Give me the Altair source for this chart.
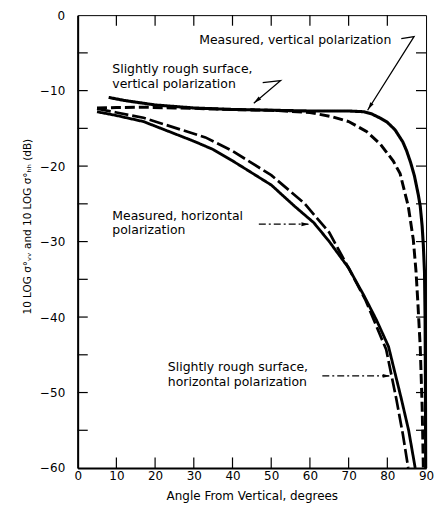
import altair as alt
import pandas as pd

# ---- curve data (angle from vertical in degrees, backscatter in dB) ----
mv_deg = [8, 12, 16, 20, 25, 30, 40, 50, 60, 70, 74, 76, 78, 80, 82, 84, 85, 86, 87, 88, 88.5, 89, 89.3, 89.6, 89.75, 89.85, 89.9]
mv_db = [-10.9, -11.3, -11.6, -11.9, -12.1, -12.3, -12.5, -12.6, -12.7, -12.7, -12.8, -13.1, -13.6, -14.2, -15.2, -16.8, -18.0, -19.5, -21.3, -23.8, -25.3, -28.0, -30.5, -34.0, -40.0, -50.0, -60.0]

rv_deg = [5, 10, 17, 25, 30, 40, 50, 60, 66, 70, 74.6, 78.2, 81.5, 83.3, 85.4, 86.7, 87.4, 87.9, 88.5, 89.0, 89.3]
rv_db = [-12.3, -12.25, -12.2, -12.3, -12.35, -12.5, -12.6, -12.9, -13.5, -14.1, -15.4, -17.1, -19.3, -21.0, -25.3, -29.7, -33.9, -38.2, -44.0, -52.0, -60.0]

rh_deg = [5, 10, 17, 25, 33, 40, 50, 58.5, 65, 70, 74.4, 77, 79.7, 82.3, 84, 85.4]
rh_db = [-12.4, -12.9, -13.6, -14.9, -16.2, -18.0, -21.2, -24.9, -28.8, -33.5, -37.8, -41.0, -44.3, -50.8, -55.5, -60.0]

mh_deg = [5, 10, 17, 25, 30, 35, 40, 50, 56, 61, 65, 70, 74, 77.2, 80.3, 83.6, 85.5, 87.2]
mh_db = [-12.8, -13.3, -14.1, -15.7, -16.7, -17.8, -19.3, -22.5, -25.3, -27.5, -30.0, -33.5, -37.2, -40.4, -43.9, -50.8, -55.0, -60.0]

series_names = ["mv", "rv", "mh", "rh"]

# ---- axis tick values ----
x_label_values = [0, 10, 20, 30, 40, 50, 60, 70, 80, 90]
y_label_values = [-60, -50, -40, -30, -20, -10, 0]
y_tick_values = [-55, -50, -45, -40, -35, -30, -25, -20, -15, -10, -5]
x_tick_values = [10, 20, 30, 40, 50, 60, 70, 80]

# ---- annotations ----
ann_text = ["Measured, vertical polarization", "Slightly rough surface,", "vertical polarization",
            "Measured, horizontal", "polarization", "Slightly rough surface,", "horizontal polarization"]
ann_x = [31.4, 8.95, 8.95, 8.95, 8.95, 23.3, 23.3]
ann_y = [-3.24, -7.12, -9.07, -26.55, -28.5, -46.6, -48.6]

lead_solid_id = [1, 1, 1, 2, 2, 2]
lead_solid_x = [83.6, 86.9, 74.9, 47.8, 52.4, 45.5]
lead_solid_y = [-3.1, -2.85, -12.6, -8.94, -8.68, -11.66]

lead_dd_id = [3, 3, 4, 4]
lead_dd_x = [46.8, 59.6, 63.2, 80.5]
lead_dd_y = [-27.7, -27.7, -47.8, -47.8]

arrow_x = [75.5, 46.3, 58.8, 79.8]
arrow_y = [-12.1, -11.3, -27.7, -47.8]
arrow_angle = [212, 230, 90, 90]

TICK_DX = 2.6   # inward tick length in degrees
TICK_DY = 1.4   # inward tick length in dB

def frame(name, xs, ys):
    return pd.DataFrame({"series": name, "deg": xs, "db": ys, "i": list(range(len(xs)))})

curves = pd.concat([frame("mv", mv_deg, mv_db), frame("rv", rv_deg, rv_db),
                    frame("mh", mh_deg, mh_db), frame("rh", rh_deg, rh_db)], ignore_index=True)

xs = alt.Scale(domain=[0, 90], nice=False, zero=False)
ys = alt.Scale(domain=[-60, 0], nice=False, zero=False)
FONT = "DejaVu Sans"

AX = alt.Axis(values=x_label_values, ticks=False, grid=False,
              domainColor="black", domainWidth=2, labelFontSize=12, labelFont=FONT, labelColor="black",
              labelPadding=3, labelOverlap=False, labelFlush=False, title="Angle From Vertical, degrees",
              titleFont=FONT, titleFontSize=12, titleFontWeight="normal", titleColor="black",
              titlePadding=9, format="d")
AY = alt.Axis(values=y_label_values, ticks=False, grid=False,
              domainColor="black", domainWidth=2, labelFontSize=12, labelFont=FONT, labelColor="black",
              labelPadding=13, labelOverlap=False, labelFlush=False,
              title="10 LOG σ°ᵥᵥ and 10 LOG σ°ₕₕ (dB)", titleFont=FONT,
              titleFontSize=10.5, titleFontWeight="normal", titleColor="black", titlePadding=7,
              titleY=212, format="d")

def X(f):
    return alt.X(f, scale=xs, axis=AX)

def Y(f):
    return alt.Y(f, scale=ys, axis=AY)

lines = alt.Chart(curves).mark_line(color="black", strokeCap="butt").encode(
    x=X("deg:Q"),
    y=Y("db:Q"),
    detail="series:N",
    order="i:Q",
    strokeDash=alt.StrokeDash("series:N", scale=alt.Scale(domain=series_names,
                              range=[[1, 0], [10, 4], [1, 0], [14, 4]]), legend=None),
    strokeWidth=alt.StrokeWidth("series:N", scale=alt.Scale(domain=series_names,
                                range=[3.1, 2.7, 2.7, 2.7]), legend=None),
)

left_ticks = pd.DataFrame({"y": y_tick_values, "x": 0.0, "x2": TICK_DX})
right_ticks = pd.DataFrame({"y": y_tick_values, "x": 90 - TICK_DX, "x2": 90.0})
bottom_ticks = pd.DataFrame({"x": x_tick_values, "y": -60.0, "y2": -60 + TICK_DY})
top_ticks = pd.DataFrame({"x": x_tick_values, "y": 0.0, "y2": -TICK_DY})

def hticks(df):
    return alt.Chart(df).mark_rule(color="black", strokeWidth=1.2).encode(
        x=X("x:Q"), x2="x2:Q", y=Y("y:Q"))

def vticks(df):
    return alt.Chart(df).mark_rule(color="black", strokeWidth=1.2).encode(
        x=X("x:Q"), y=Y("y:Q"), y2="y2:Q")

texts = alt.Chart(pd.DataFrame({"x": ann_x, "y": ann_y, "t": ann_text})).mark_text(
    align="left", baseline="middle", fontSize=12.5, font=FONT, color="black").encode(
    x=X("x:Q"), y=Y("y:Q"), text="t:N")

lead_s = alt.Chart(pd.DataFrame({"id": lead_solid_id, "x": lead_solid_x, "y": lead_solid_y,
                                 "i": list(range(len(lead_solid_x)))})).mark_line(
    color="black", strokeWidth=1.3).encode(
    x=X("x:Q"), y=Y("y:Q"), detail="id:N", order="i:Q")

lead_d = alt.Chart(pd.DataFrame({"id": lead_dd_id, "x": lead_dd_x, "y": lead_dd_y,
                                 "i": list(range(len(lead_dd_x)))})).mark_line(
    color="black", strokeWidth=1.2, strokeDash=[7, 3, 2, 3]).encode(
    x=X("x:Q"), y=Y("y:Q"), detail="id:N", order="i:Q")

arrows = alt.Chart(pd.DataFrame({"x": arrow_x, "y": arrow_y, "a": arrow_angle})).mark_point(
    shape="M0,-1L0.5,1L-0.5,1Z", filled=True, color="black", opacity=1, size=60).encode(
    x=X("x:Q"), y=Y("y:Q"), angle=alt.Angle("a:Q", scale=None))

chart = alt.layer(lines, hticks(left_ticks), hticks(right_ticks), vticks(bottom_ticks), vticks(top_ticks),
                  lead_s, lead_d, arrows, texts).properties(
    width=350, height=455,
    autosize=alt.AutoSizeParams(type="none"),
    padding={"left": 70, "top": 6, "right": 10, "bottom": 39},
    background="white",
).configure_view(stroke="black", strokeWidth=1)

chart.save("out.html", embed_options={"renderer": "svg", "actions": False})
